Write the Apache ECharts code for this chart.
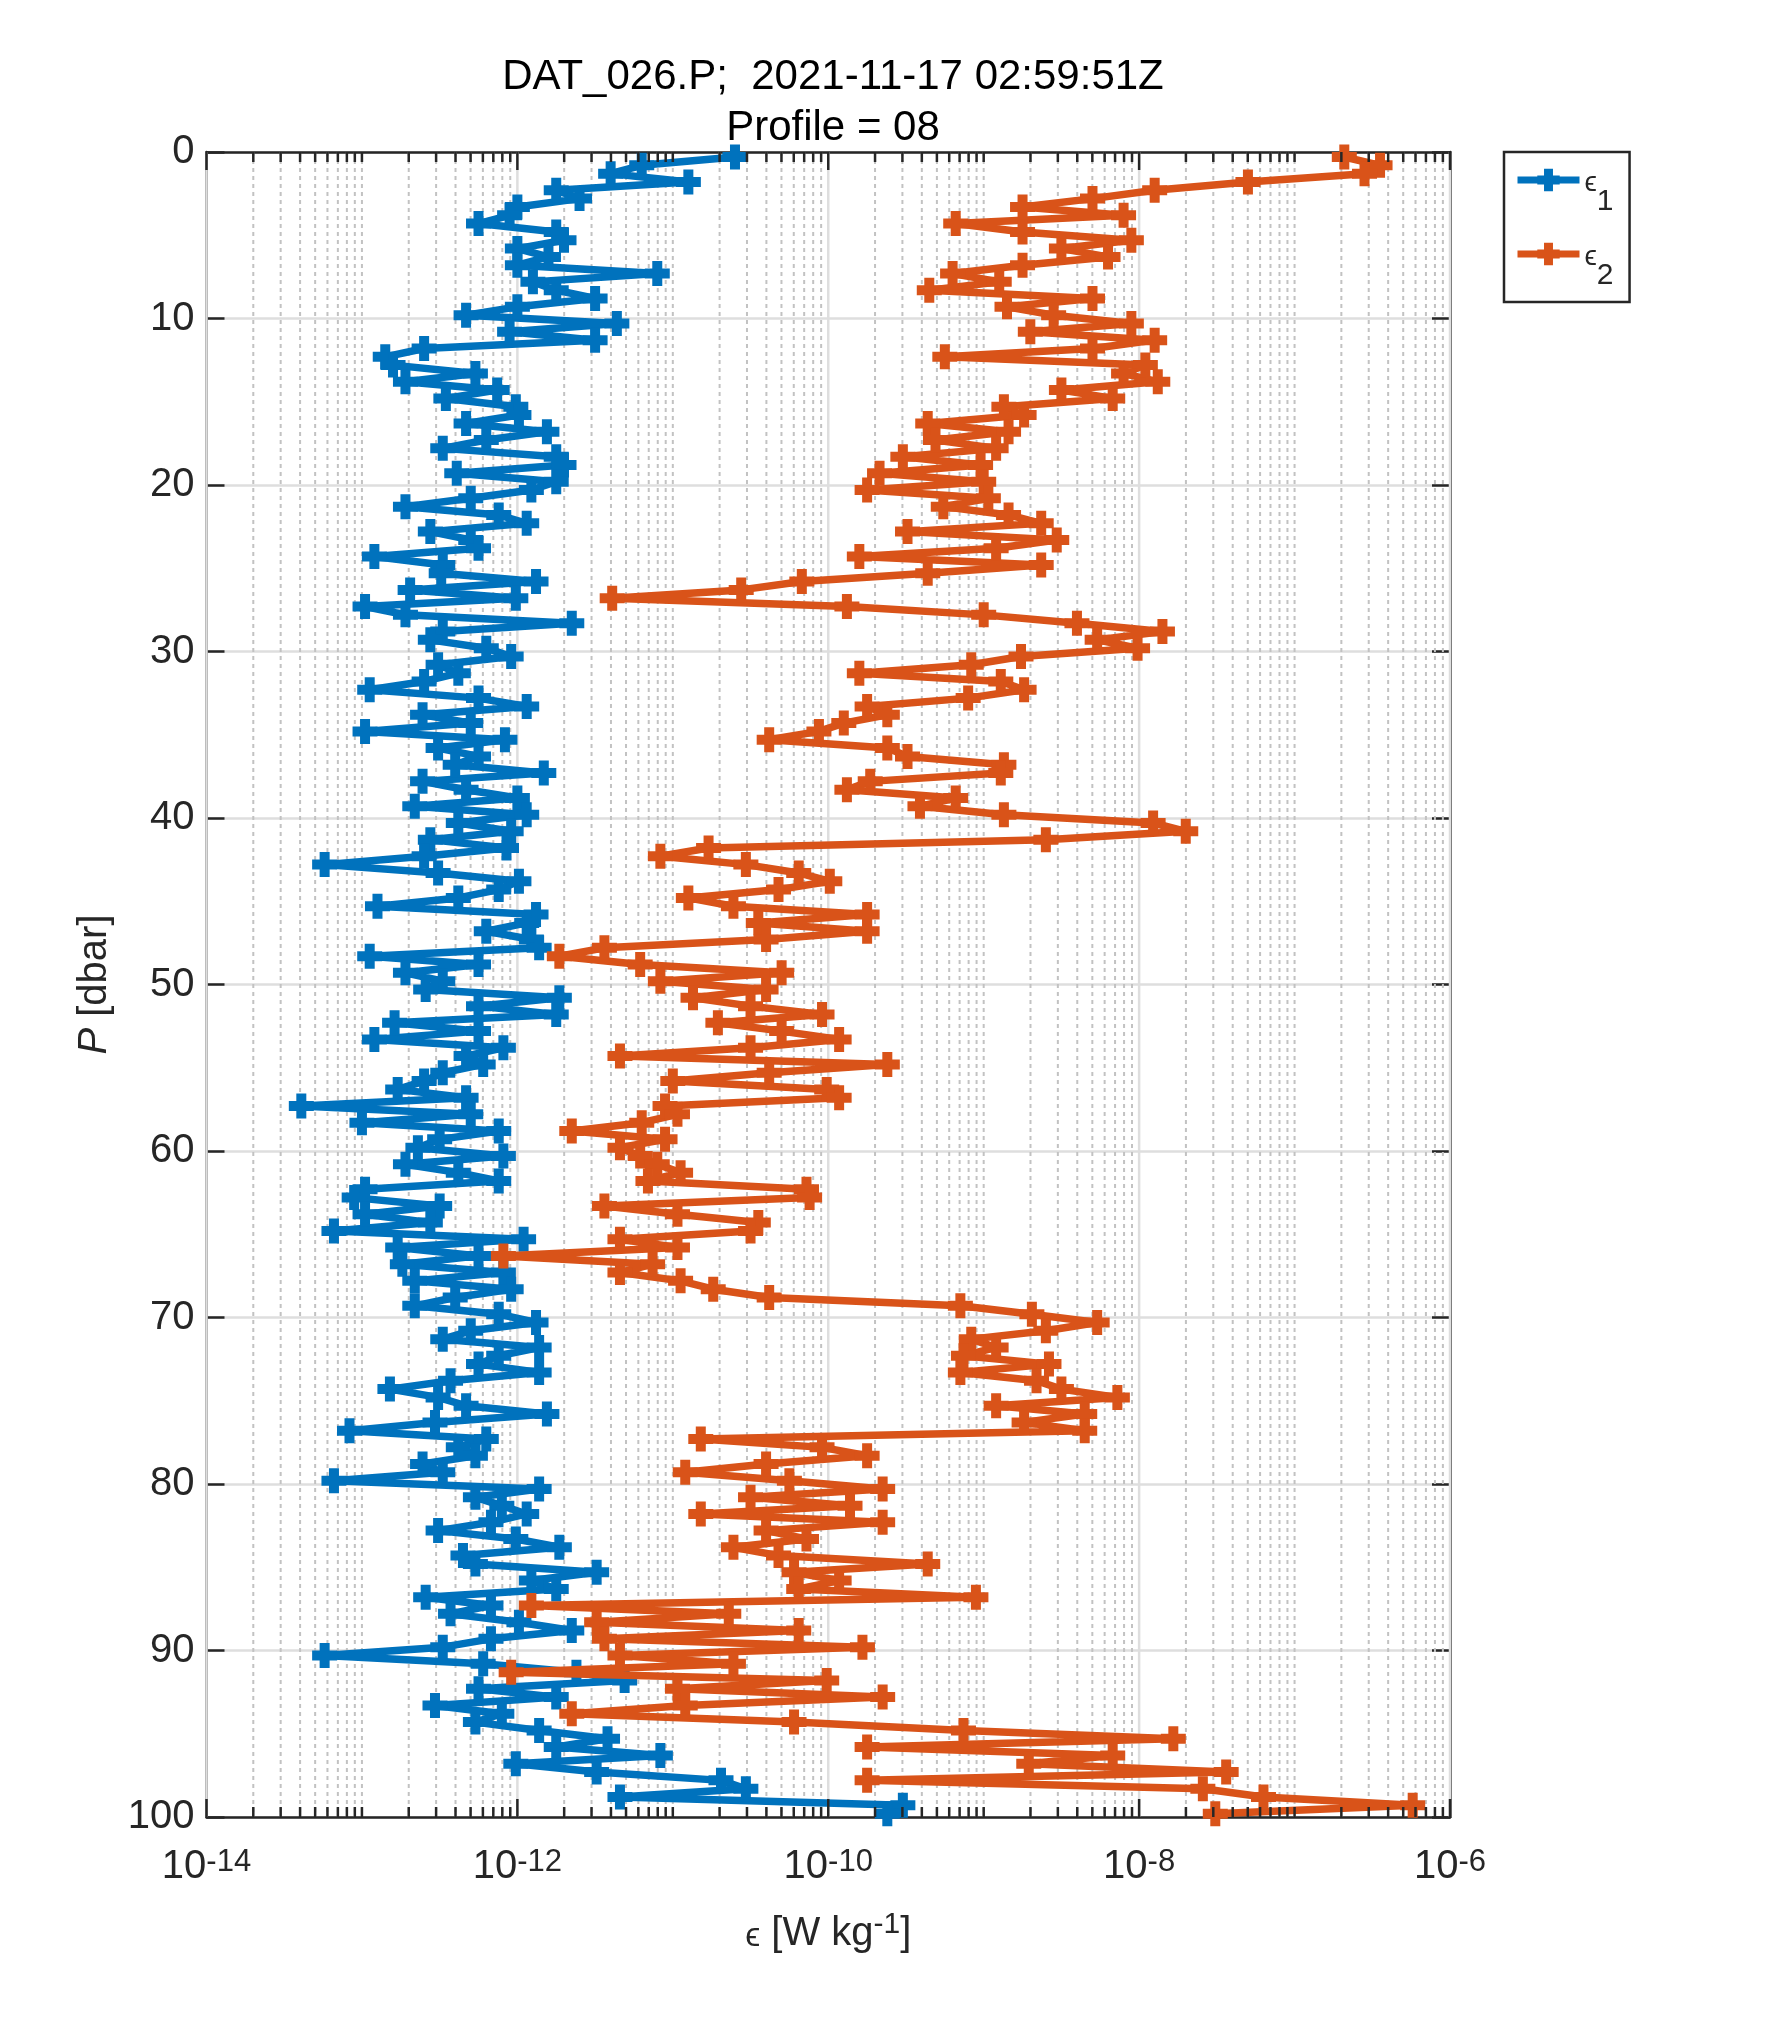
<!DOCTYPE html>
<html>
<head>
<meta charset="utf-8">
<script src="https://cdn.jsdelivr.net/npm/echarts@6/dist/echarts.min.js"></script>
<style>
html,body{margin:0;padding:0;background:#fff;}
#chart{width:1772px;height:2042px;}
</style>
</head>
<body>
<div id="chart"></div>
<script>
// Pressure [dbar] of each estimate
const pressure = [
 0.3,0.8,1.3,1.8,2.3,2.8,3.3,3.8,4.3,4.8,5.3,5.8,6.3,6.8,7.3,7.8,8.3,8.8,9.3,9.8,10.3,10.8,11.3,11.8,12.3,
 12.8,13.3,13.8,14.3,14.8,15.3,15.8,16.3,16.8,17.3,17.8,18.3,18.8,19.3,19.8,20.3,20.8,21.3,21.8,22.3,22.8,23.3,23.8,24.3,24.8,
 25.3,25.8,26.3,26.8,27.3,27.8,28.3,28.8,29.3,29.8,30.3,30.8,31.3,31.8,32.3,32.8,33.3,33.8,34.3,34.8,35.3,35.8,36.3,36.8,37.3,
 37.8,38.3,38.8,39.3,39.8,40.3,40.8,41.3,41.8,42.3,42.8,43.3,43.8,44.3,44.8,45.3,45.8,46.3,46.8,47.3,47.8,48.3,48.8,49.3,49.8,
 50.3,50.8,51.3,51.8,52.3,52.8,53.3,53.8,54.3,54.8,55.3,55.8,56.3,56.8,57.3,57.8,58.3,58.8,59.3,59.8,60.3,60.8,61.3,61.8,62.3,
 62.8,63.3,63.8,64.3,64.8,65.3,65.8,66.3,66.8,67.3,67.8,68.3,68.8,69.3,69.8,70.3,70.8,71.3,71.8,72.3,72.8,73.3,73.8,74.3,74.8,
 75.3,75.8,76.3,76.8,77.3,77.8,78.3,78.8,79.3,79.8,80.3,80.8,81.3,81.8,82.3,82.8,83.3,83.8,84.3,84.8,85.3,85.8,86.3,86.8,87.3,
 87.8,88.3,88.8,89.3,89.8,90.3,90.8,91.3,91.8,92.3,92.8,93.3,93.8,94.3,94.8,95.3,95.8,96.3,96.8,97.3,97.8,98.3,98.8,99.3,99.8
];
// log10 of epsilon_1 [W/kg]
const eps1Log10 = [
 -10.6,-11.2,-11.4,-10.9,-11.75,-11.6,-12.0,-12.05,-12.25,-11.75,-11.7,-12.0,-11.8,-12.0,-11.1,-11.9,-11.75,-11.5,-12.0,-12.33,-11.36,-12.05,-11.5,-12.6,-12.85,
 -12.8,-12.27,-12.72,-12.13,-12.46,-12.01,-11.99,-12.33,-11.81,-12.2,-12.48,-11.75,-11.7,-12.39,-11.75,-11.91,-12.3,-12.72,-12.12,-11.94,-12.56,-12.3,-12.25,-12.92,-12.48,
 -12.49,-11.88,-12.69,-12.01,-12.98,-12.72,-11.65,-12.48,-12.56,-12.2,-12.04,-12.51,-12.38,-12.6,-12.95,-12.25,-11.94,-12.61,-12.3,-12.98,-12.08,-12.51,-12.25,-12.4,-11.83,
 -12.61,-12.33,-12.0,-12.66,-11.94,-12.38,-12.04,-12.56,-12.07,-12.6,-13.24,-12.51,-11.99,-12.12,-12.38,-12.9,-11.88,-11.94,-12.2,-11.91,-11.86,-12.95,-12.25,-12.72,-12.48,
 -12.59,-11.73,-12.25,-11.75,-12.79,-12.25,-12.92,-12.09,-12.33,-12.22,-12.48,-12.6,-12.77,-12.33,-13.39,-12.3,-13.0,-12.12,-12.5,-12.64,-12.09,-12.72,-12.38,-12.12,-12.98,
 -13.05,-12.5,-12.98,-12.56,-13.18,-11.96,-12.77,-12.25,-12.74,-12.09,-12.66,-12.04,-12.4,-12.66,-12.12,-11.88,-12.3,-12.48,-11.86,-12.12,-12.25,-11.86,-12.43,-12.82,-12.51,
 -12.33,-11.81,-12.53,-13.08,-12.2,-12.38,-12.27,-12.61,-12.48,-13.18,-11.86,-12.27,-12.1,-11.94,-12.17,-12.51,-12.01,-11.73,-12.35,-12.27,-11.49,-11.91,-11.75,-12.59,-12.17,
 -12.43,-11.99,-11.65,-12.17,-12.48,-13.24,-12.22,-11.62,-11.31,-12.25,-11.75,-12.53,-12.1,-12.27,-11.86,-11.42,-11.75,-11.08,-12.01,-11.49,-10.69,-10.53,-11.34,-9.52,-9.62
];
// log10 of epsilon_2 [W/kg]
const eps2Log10 = [
 -6.68,-6.45,-6.55,-7.3,-7.9,-8.3,-8.75,-8.1,-9.18,-8.75,-8.05,-8.5,-8.2,-8.75,-9.2,-8.9,-9.35,-8.3,-8.85,-8.55,-8.05,-8.7,-7.9,-8.3,-9.25,
 -7.96,-8.1,-7.88,-8.5,-8.17,-8.87,-8.74,-9.36,-8.84,-9.31,-8.92,-9.52,-9.02,-9.67,-9.0,-9.75,-8.97,-9.26,-8.84,-8.63,-9.49,-8.53,-8.92,-9.8,-8.63,
 -9.36,-10.17,-10.56,-11.39,-9.88,-9.0,-8.4,-7.85,-8.27,-8.01,-8.76,-9.08,-9.8,-8.89,-8.74,-9.1,-9.75,-9.62,-9.9,-10.06,-10.38,-9.62,-9.49,-8.87,-8.89,
 -9.73,-9.88,-9.18,-9.41,-8.87,-7.91,-7.7,-8.6,-10.77,-11.08,-10.53,-10.19,-9.99,-10.32,-10.9,-10.61,-9.75,-10.45,-9.75,-10.4,-11.44,-11.73,-11.21,-10.3,-11.08,
 -10.4,-10.87,-10.5,-10.04,-10.71,-10.3,-9.93,-10.5,-11.34,-9.62,-10.38,-11.0,-10.01,-9.93,-11.05,-10.97,-11.2,-11.65,-11.05,-11.34,-11.21,-11.1,-10.95,-11.16,-10.14,
 -10.12,-11.44,-10.97,-10.45,-10.5,-11.34,-10.97,-12.09,-11.13,-11.34,-10.95,-10.74,-10.38,-9.15,-8.69,-8.27,-8.6,-9.08,-8.92,-9.13,-8.58,-9.15,-8.66,-8.5,-8.14,
 -8.92,-8.35,-8.74,-8.35,-10.82,-10.04,-9.75,-10.4,-10.92,-10.25,-9.65,-10.5,-9.86,-10.82,-9.65,-10.4,-10.14,-10.61,-10.32,-9.36,-10.22,-9.93,-10.19,-9.05,-11.91,
 -10.64,-11.49,-10.19,-11.44,-9.78,-11.34,-10.61,-12.04,-10.01,-10.97,-9.65,-10.92,-11.65,-10.22,-9.13,-7.78,-9.75,-8.17,-8.71,-7.44,-9.75,-7.59,-7.2,-6.24,-7.51
];
const seriesNames = ['eps1', 'eps2'];
const seriesColors = ['#0072BD', '#D95319'];
const xMin = 1e-14, xMax = 1e-6;
const yTicks = [0, 10, 20, 30, 40, 50, 60, 70, 80, 90, 100];

// decoration: x tick positions (major every 2 decades, minor otherwise)
const xTickValues = [];
for (let d = -14; d <= -7; d++) {
  for (let k = 1; k <= 9; k++) {
    xTickValues.push([k * Math.pow(10, d), (k === 1 && d % 2 === 0) ? 1 : 0]);
  }
}
xTickValues.push([1e-6, 1]);

const FONT = '"Liberation Sans", Arial, Helvetica, sans-serif';
const INK = '#262626';
const plus = 'path://M-4.8,-12H4.8V-4.8H12V4.8H4.8V12H-4.8V4.8H-12V-4.8H-4.8Z';

function mkData(exps) { return exps.map((v, i) => [Math.pow(10, v), pressure[i]]); }

const chart = echarts.init(document.getElementById('chart'), null, {renderer: 'canvas'});
const option = {
  animation: false,
  backgroundColor: '#fff',
  textStyle: {fontFamily: FONT},
  title: {
    text: 'DAT_026.P;  2021-11-17 02:59:51Z\nProfile = 08',
    left: 828, top: 47, textAlign: 'center',
    textStyle: {fontSize: 42, fontWeight: 'normal', lineHeight: 51, color: '#000', fontFamily: FONT}
  },
  legend: {
    data: seriesNames,
    orient: 'vertical',
    left: 1504, top: 152,
    padding: [13, 16, 11, 10],
    itemGap: 22, itemWidth: 62, itemHeight: 28,
    backgroundColor: '#fff', borderColor: INK, borderWidth: 2.5,
    lineStyle: {width: 7},
    formatter: n => n === 'eps1' ? '{e|ϵ}{s|1}' : '{e|ϵ}{s|2}',
    textStyle: {
      color: INK,
      rich: {
        e: {fontSize: 28, lineHeight: 28, padding: [4, 0, 0, 0], verticalAlign: 'top', color: INK, fontFamily: FONT},
        s: {fontSize: 30, lineHeight: 30, padding: [22, 0, 0, 0], verticalAlign: 'top', color: INK, fontFamily: FONT}
      }
    }
  },
  grid: {left: 206.5, right: 322, top: 152, bottom: 225, containLabel: false},
  xAxis: [{
    type: 'log', logBase: 10, min: xMin, max: xMax, position: 'bottom',
    axisLine: {show: true, onZero: false, lineStyle: {color: INK, width: 2.5}},
    axisTick: {show: false},
    splitLine: {show: false},
    axisLabel: {
      show: true, margin: 30, showMinLabel: true, showMaxLabel: true,
      formatter: v => { const e = Math.round(Math.log10(v)); return (e % 2 !== 0) ? '' : '{b|10}{s|' + e + '}'; },
      rich: {
        b: {fontSize: 40, lineHeight: 40, verticalAlign: 'bottom', color: INK, fontFamily: FONT},
        s: {fontSize: 31, lineHeight: 31, padding: [0, 0, 18, 0], verticalAlign: 'top', color: INK, fontFamily: FONT}
      }
    },
    name: '{e|ϵ}{t| [W kg}{s|-1}{t|]}', nameLocation: 'middle', nameGap: 93,
    nameTextStyle: {
      rich: {
        e: {fontSize: 34, lineHeight: 38, verticalAlign: 'bottom', color: INK, fontFamily: FONT},
        t: {fontSize: 40, lineHeight: 44, verticalAlign: 'bottom', color: INK, fontFamily: FONT},
        s: {fontSize: 30, lineHeight: 30, padding: [0, 0, 22, 0], verticalAlign: 'top', color: INK, fontFamily: FONT}
      }
    }
  }, {
    type: 'log', logBase: 10, min: xMin, max: xMax, position: 'top',
    axisLine: {show: true, onZero: false, lineStyle: {color: INK, width: 2.5}},
    axisTick: {show: false}, axisLabel: {show: false}, splitLine: {show: false}
  }],
  yAxis: [{
    type: 'value', inverse: true, min: 0, max: 100, interval: 10, position: 'left',
    axisLine: {show: true, onZero: false, lineStyle: {color: INK, width: 2.5}},
    axisTick: {show: true, inside: true, length: 18, lineStyle: {color: INK, width: 2.5}},
    splitLine: {show: true, lineStyle: {color: '#dedede', width: 2.5}},
    axisLabel: {fontSize: 40, color: INK, margin: 12, fontFamily: FONT, formatter: v => yTicks.indexOf(v) >= 0 ? String(v) : ''},
    name: '{i|P}{n| [dbar]}', nameLocation: 'middle', nameGap: 90, nameRotate: 90,
    nameTextStyle: {
      rich: {
        i: {fontSize: 40, lineHeight: 44, fontStyle: 'italic', color: INK, fontFamily: FONT},
        n: {fontSize: 40, lineHeight: 44, color: INK, fontFamily: FONT}
      }
    }
  }, {
    type: 'value', inverse: true, min: 0, max: 100, interval: 10, position: 'right',
    axisLine: {show: true, onZero: false, lineStyle: {color: INK, width: 2.5}},
    axisTick: {show: true, inside: true, length: 18, lineStyle: {color: INK, width: 2.5}},
    axisLabel: {show: false}, splitLine: {show: false}
  }],
  series: [
    {
      type: 'custom', name: 'xgrid', xAxisIndex: 0, yAxisIndex: 0, z: 1, silent: true,
      data: xTickValues, encode: {x: 0, y: 1},
      renderItem: (params, api) => {
        const x = api.value(0), major = api.value(1);
        const a = api.coord([x, 0]), b = api.coord([x, 100]);
        return {
          type: 'line',
          shape: {x1: a[0], y1: a[1], x2: b[0], y2: b[1]},
          style: major ? {stroke: '#dedede', lineWidth: 2.5} : {stroke: '#c2c2c2', lineWidth: 2, lineDash: [4, 4]}
        };
      }
    },
    {
      name: 'eps1', type: 'line', data: mkData(eps1Log10), z: 3,
      symbol: plus, symbolSize: 25, showSymbol: true,
      lineStyle: {width: 7.5, color: seriesColors[0], join: 'round'}, itemStyle: {color: seriesColors[0]},
      emphasis: {disabled: true}
    },
    {
      name: 'eps2', type: 'line', data: mkData(eps2Log10), z: 4,
      symbol: plus, symbolSize: 25, showSymbol: true,
      lineStyle: {width: 7.5, color: seriesColors[1], join: 'round'}, itemStyle: {color: seriesColors[1]},
      emphasis: {disabled: true}
    },
    {
      type: 'custom', name: 'xticks', xAxisIndex: 0, yAxisIndex: 0, z: 6, silent: true,
      data: xTickValues, encode: {x: 0, y: 1},
      renderItem: (params, api) => {
        const x = api.value(0), major = api.value(1);
        const L = major ? 18 : 10;
        const a = api.coord([x, 0]), b = api.coord([x, 100]);
        const st = {stroke: INK, lineWidth: 2.5};
        return {
          type: 'group',
          children: [
            {type: 'line', shape: {x1: a[0], y1: a[1], x2: a[0], y2: a[1] + L}, style: st},
            {type: 'line', shape: {x1: b[0], y1: b[1], x2: b[0], y2: b[1] - L}, style: st}
          ]
        };
      }
    }
  ]
};
chart.setOption(option);
</script>
</body>
</html>
